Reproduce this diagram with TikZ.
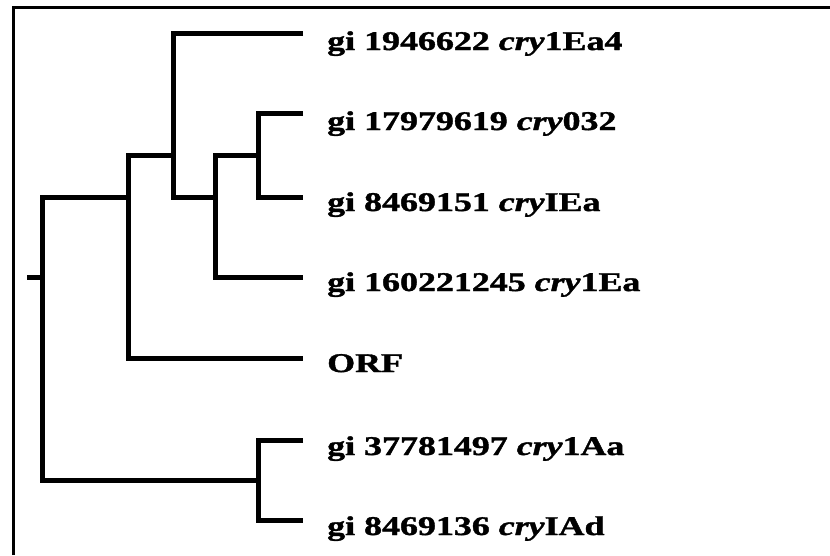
\documentclass[tikz,border=0pt]{standalone}
\usepackage{fontspec}
\setmainfont{Liberation Serif}
% heavy Times-like faces for the leaf names
\newfontfamily\leafrm{Liberation Serif Bold}[FakeBold=1.2]
\newfontfamily\leafit{Liberation Serif Bold Italic}[FakeBold=1.2]
\newcommand\widelabel[1]{\scalebox{1.33}[1]{#1}}
\newcommand\gene[1]{{\leafit #1}}
\begin{document}
\begin{tikzpicture}[x=1pt,y=-1pt,
  branch/.style={line width=5pt, line join=miter},
  frame/.style={line width=3pt},
  leaf/.style={font=\fontsize{27}{32}\leafrm, inner sep=0pt, anchor=base west}]
\useasboundingbox (0,0) rectangle (830,555);
\fill[white] (0,0) rectangle (830,555);
% outer frame (left and top edges)
\draw[frame] (13,555) -- (13,7) -- (830,7);

% internal nodes: top and bottom ends of each vertical bar
\coordinate (stub) at (27,277);
\coordinate (Rt) at (42,197);  \coordinate (Rb) at (42,480);
\coordinate (Dt) at (128,155); \coordinate (Db) at (128,358);
\coordinate (Ct) at (173,33);  \coordinate (Cb) at (173,197);
\coordinate (Bt) at (215,155); \coordinate (Bb) at (215,277);
\coordinate (At) at (258,113); \coordinate (Ab) at (258,197);
\coordinate (Et) at (258,440); \coordinate (Eb) at (258,520);

% leaf tips
\coordinate (t1) at (303,33);
\coordinate (t2) at (303,113);
\coordinate (t3) at (303,197);
\coordinate (t4) at (303,277);
\coordinate (t5) at (303,358);
\coordinate (t6) at (303,440);
\coordinate (t7) at (303,520);

% leaf labels
\node[leaf] (l1) at (327,50)  {\widelabel{gi 1946622 \gene{cry}1Ea4}};
\node[leaf] (l2) at (327,130) {\widelabel{gi 17979619 \gene{cry}032}};
\node[leaf] (l3) at (327,211) {\widelabel{gi 8469151 \gene{cry}IEa}};
\node[leaf] (l4) at (327,291) {\widelabel{gi 160221245 \gene{cry}1Ea}};
\node[leaf] (l5) at (327,372) {\widelabel{ORF}};
\node[leaf] (l6) at (327,455) {\widelabel{gi 37781497 \gene{cry}1Aa}};
\node[leaf] (l7) at (327,535) {\widelabel{gi 8469136 \gene{cry}IAd}};

% branches
\draw[branch] (stub) -- (stub -| Rt);
\draw[branch] (Dt |- Rt) -- (Rt) -- (Rb) -- (Et |- Rb);
\draw[branch] (Ct |- Dt) -- (Dt) -- (Db) -- (t5);
\draw[branch] (t1) -- (Ct) -- (Cb) -- (Bt |- Cb);
\draw[branch] (At |- Bt) -- (Bt) -- (Bb) -- (t4);
\draw[branch] (t2) -- (At) -- (Ab) -- (t3);
\draw[branch] (t6) -- (Et) -- (Eb) -- (t7);
\end{tikzpicture}
\end{document}
